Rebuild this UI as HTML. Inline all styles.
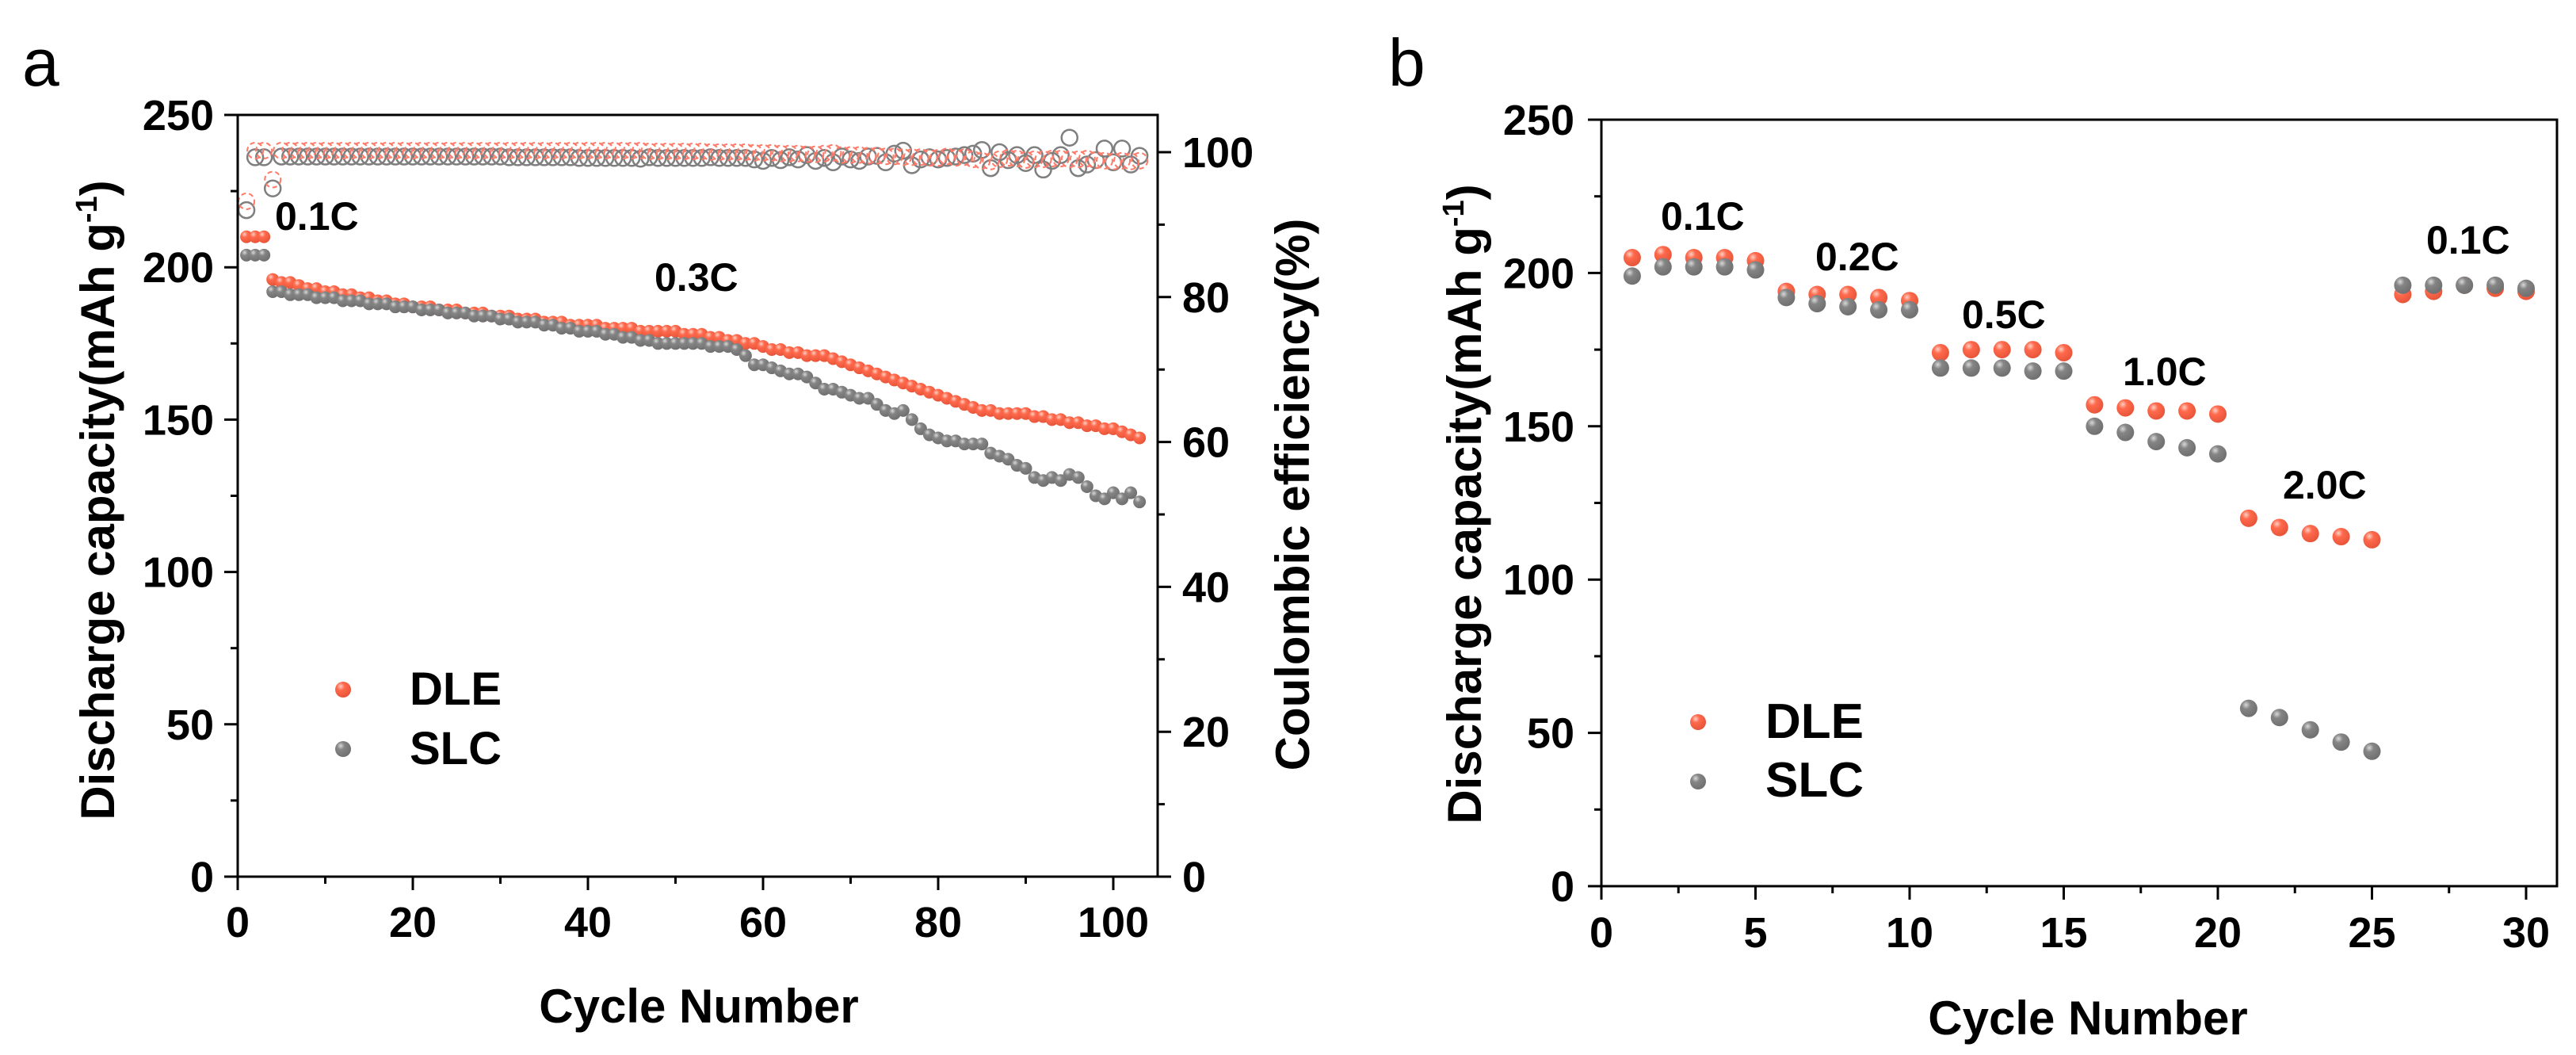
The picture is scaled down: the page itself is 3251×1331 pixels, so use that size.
<!DOCTYPE html>
<html><head><meta charset="utf-8">
<style>
html,body{margin:0;padding:0;background:#fff;}
svg{display:block;font-family:"Liberation Sans",Arial,sans-serif;}
.tk{font-size:54px;font-weight:bold;}
.tt{font-size:60px;font-weight:bold;}
.an{font-size:50px;font-weight:bold;}
.lg{font-size:58px;font-weight:bold;}
</style></head>
<body>
<svg id="fig" width="3251" height="1331" viewBox="0 0 3251 1331" xmlns="http://www.w3.org/2000/svg">
<defs>
<radialGradient id="gr" cx="0.35" cy="0.3" r="0.7"><stop offset="0" stop-color="#ffd0c4"/><stop offset="0.35" stop-color="#ff6a4d"/><stop offset="1" stop-color="#e8553a"/></radialGradient>
<radialGradient id="gg" cx="0.35" cy="0.3" r="0.7"><stop offset="0" stop-color="#d8d8d8"/><stop offset="0.35" stop-color="#858585"/><stop offset="1" stop-color="#707070"/></radialGradient>
</defs>
<text x="28" y="108" font-size="84">a</text>
<text x="1752" y="108" font-size="84">b</text>
<g id="pa"></g>
<g id="pb"></g>
</svg>
<script>
// ---------- Panel a data ----------
const capDLE = [210,210,210,196,195,195,194,193,193,192,
192,191,191,190,190,189,189,188,188,187,
187,187,186,186,186,185,185,185,184,184,
184,183,183,183,182,182,182,181,181,181,
181,180,180,180,180,179,179,179,179,179,
178,178,178,177,177,176,176,175,175,174,
173,173,172,172,171,171,171,170,169,168,
167,166,165,164,163,162,161,160,159,158,
157,156,155,154,153,153,152,152,152,152,
151,151,150,150,149,149,148,148,147,147,146,145,144];
const capSLC = [204,204,204,192,192,191,191,191,190,190,
190,189,189,189,188,188,188,187,187,187,
186,186,186,185,185,185,184,184,184,183,
183,182,182,182,181,181,180,180,179,179,
179,178,178,177,177,176,176,175,175,175,
175,175,175,174,174,174,173,171,168,168,
167,166,165,165,164,162,160,160,159,158,
157,157,155,153,152,153,150,147,145,144,
143,143,142,142,142,139,138,137,135,134,
131,130,131,130,132,131,128,125,124,126,124,126,123];
const ceDLE = [93,100,100,96,100,100,100,100,100,100,
100,100,100,100,100,100,100,100,100,100,
100,100,100,100,100,100,100,100,100,100,
100,100,100,100,100,100,100,100,100,100,
100,100,100,100,100,100,99.9,99.9,99.9,99.9,
99.9,99.9,99.9,99.8,99.8,99.8,99.8,99.8,99.7,99.7,
99.7,99.6,99.6,99.6,99.5,99.5,99.6,99.7,99.4,99.4,
99.4,99.3,99.3,99.2,99.2,99.1,99.1,99.1,99.0,99.0,
99.2,99.0,99.1,98.8,98.6,98.5,98.8,99.0,98.9,98.7,
98.8,98.8,98.9,98.9,98.8,98.8,98.9,98.7,98.6,98.5,98.6,98.5,98.6];
const ceSLC = [92,99.3,99.3,95,99.4,99.4,99.4,99.4,99.4,99.4,
99.4,99.4,99.4,99.4,99.4,99.4,99.4,99.4,99.4,99.4,
99.4,99.4,99.4,99.4,99.4,99.4,99.4,99.4,99.4,99.4,
99.3,99.3,99.3,99.3,99.3,99.3,99.3,99.3,99.2,99.2,
99.2,99.2,99.2,99.2,99.2,99.1,99.3,99.2,99.2,99.2,
99.2,99.2,99.2,99.3,99.2,99.2,99.2,99.2,99.0,98.8,
99.2,98.9,99.3,99.0,99.6,98.8,99.2,98.6,99.4,99.0,
98.8,99.4,99.5,98.6,99.8,100.2,98.2,99.0,99.3,99.0,
99.2,99.4,99.6,99.8,100.3,97.8,100.0,98.9,99.6,98.5,
99.6,97.6,98.8,99.6,102.0,97.8,98.3,98.9,100.5,98.6,100.5,98.3,99.5];
const aXTicks = [0,20,40,60,80,100];
const aYTicks = [0,50,100,150,200,250];
const aY2Ticks = [0,20,40,60,80,100];
// ---------- Panel b data ----------
const bCycles = [1,2,3,4,5,6,7,8,9,10,11,12,13,14,15,16,17,18,19,20,21,22,23,24,25,26,27,28,29,30];
const bDLE = [205,206,205,205,204,194,193,193,192,191,174,175,175,175,174,157,156,155,155,154,120,117,115,114,113,193,194,196,195,194];
const bSLC = [199,202,202,202,201,192,190,189,188,188,169,169,169,168,168,150,148,145,143,141,58,55,51,47,44,196,196,196,196,195];
const bXTicks = [0,5,10,15,20,25,30];
const bYTicks = [0,50,100,150,200,250];

const NS="http://www.w3.org/2000/svg";
function mk(parent,tag,attrs,txt){const e=document.createElementNS(NS,tag);for(const k in attrs)e.setAttribute(k,attrs[k]);if(txt!==undefined)e.textContent=txt;parent.appendChild(e);return e;}

// ---- Panel a ----
(function(){
const g=document.getElementById('pa');
const L=300,R=1461,T=145,B=1106;
const xs=v=>L+v*(1405-300)/100;
const ys=v=>B-v*(B-T)/250;
const y2=v=>B-v*(B-192)/100;
// CE open circles
ceSLC.forEach((v,i)=>{const c=mk(g,'circle',{cx:xs(i+1),cy:y2(v),r:10,fill:'none',stroke:'#7f7f7f','stroke-width':2.5});

});
ceDLE.forEach((v,i)=>{const c=mk(g,'circle',{cx:xs(i+1),cy:y2(v)-2,r:10,fill:'none',stroke:'#ff7a68','stroke-width':2,'stroke-dasharray':'6 4'});

});
capDLE.forEach((v,i)=>{const c=mk(g,'circle',{cx:xs(i+1),cy:ys(v),r:8,fill:'url(#gr)'});

});
capSLC.forEach((v,i)=>{const c=mk(g,'circle',{cx:xs(i+1),cy:ys(v),r:8,fill:'url(#gg)'});

});
// frame
const f=mk(g,'rect',{x:L,y:T,width:R-L,height:B-T,fill:'none',stroke:'#000','stroke-width':3});


// ticks
aXTicks.forEach(v=>{mk(g,'line',{x1:xs(v),x2:xs(v),y1:B,y2:B+17,stroke:'#000','stroke-width':3});
const t=mk(g,'text',{x:xs(v),y:1182,'text-anchor':'middle',class:'tk'},String(v));

});
for(let v=10;v<=100;v+=20)mk(g,'line',{x1:xs(v),x2:xs(v),y1:B,y2:B+9,stroke:'#000','stroke-width':3});
aYTicks.forEach(v=>{mk(g,'line',{x1:L-17,x2:L,y1:ys(v),y2:ys(v),stroke:'#000','stroke-width':3});
const t=mk(g,'text',{x:270,y:ys(v)+19,'text-anchor':'end',class:'tk'},String(v));

});
for(let v=25;v<250;v+=50)mk(g,'line',{x1:L-9,x2:L,y1:ys(v),y2:ys(v),stroke:'#000','stroke-width':3});
aY2Ticks.forEach(v=>{mk(g,'line',{x1:R,x2:R+17,y1:y2(v),y2:y2(v),stroke:'#000','stroke-width':3});
const t=mk(g,'text',{x:1492,y:y2(v)+19,'text-anchor':'start',class:'tk'},String(v));

});
for(let v=10;v<=100;v+=20)mk(g,'line',{x1:R,x2:R+9,y1:y2(v),y2:y2(v),stroke:'#000','stroke-width':3});
// titles
let t;
t=mk(g,'text',{x:882,y:1290,'text-anchor':'middle',class:'tt'},'Cycle Number');


t=mk(g,'text',{transform:'translate(144,631) rotate(-90)','text-anchor':'middle',class:'tt'});


t.innerHTML='Discharge capacity(mAh g<tspan dy="-22" font-size="38">-1</tspan><tspan dy="22">)</tspan>';
t=mk(g,'text',{transform:'translate(1652,624) rotate(-90)','text-anchor':'middle',class:'tt'},'Coulombic efficiency(%)');


t=mk(g,'text',{x:347,y:290,class:'an'},'0.1C');


t=mk(g,'text',{x:826,y:367,class:'an'},'0.3C');


// legend
t=mk(g,'circle',{cx:433,cy:870,r:10,fill:'url(#gr)'});


t=mk(g,'text',{x:517,y:889,class:'lg'},'DLE');


t=mk(g,'circle',{cx:433,cy:945,r:10,fill:'url(#gg)'});


t=mk(g,'text',{x:517,y:964,class:'lg'},'SLC');


})();

// ---- Panel b ----
(function(){
const g=document.getElementById('pb');
const L=2021,R=3227,T=151,B=1118;
const xs=v=>L+v*(3188-2021)/30;
const ys=v=>B-v*(B-T)/250;
bDLE.forEach((v,i)=>{const c=mk(g,'circle',{cx:xs(bCycles[i]),cy:ys(v),r:11,fill:'url(#gr)'});

});
bSLC.forEach((v,i)=>{const c=mk(g,'circle',{cx:xs(bCycles[i]),cy:ys(v),r:11,fill:'url(#gg)'});

});
const f=mk(g,'rect',{x:L,y:T,width:R-L,height:B-T,fill:'none',stroke:'#000','stroke-width':3});


bXTicks.forEach(v=>{mk(g,'line',{x1:xs(v),x2:xs(v),y1:B,y2:B+17,stroke:'#000','stroke-width':3});
const t=mk(g,'text',{x:xs(v),y:1195,'text-anchor':'middle',class:'tk'},String(v));

});
for(let v=2.5;v<30;v+=5)mk(g,'line',{x1:xs(v),x2:xs(v),y1:B,y2:B+9,stroke:'#000','stroke-width':3});
bYTicks.forEach(v=>{mk(g,'line',{x1:L-17,x2:L,y1:ys(v),y2:ys(v),stroke:'#000','stroke-width':3});
const t=mk(g,'text',{x:1987,y:ys(v)+19,'text-anchor':'end',class:'tk'},String(v));

});
for(let v=25;v<250;v+=50)mk(g,'line',{x1:L-9,x2:L,y1:ys(v),y2:ys(v),stroke:'#000','stroke-width':3});
let t;
t=mk(g,'text',{x:2635,y:1305,'text-anchor':'middle',class:'tt'},'Cycle Number');


t=mk(g,'text',{transform:'translate(1869,636) rotate(-90)','text-anchor':'middle',class:'tt'});


t.innerHTML='Discharge capacity(mAh g<tspan dy="-22" font-size="38">-1</tspan><tspan dy="22">)</tspan>';
const labs=[['0.1C',2096,290],['0.2C',2291,341],['0.5C',2476,414],['1.0C',2679,486],['2.0C',2881,629],['0.1C',3062,320]];
labs.forEach(l=>{const e=mk(g,'text',{x:l[1],y:l[2],class:'an'},l[0]);

});
t=mk(g,'circle',{cx:2143,cy:911,r:10,fill:'url(#gr)'});


t=mk(g,'text',{x:2228,y:931,class:'lg',style:'font-size:62px'},'DLE');


t=mk(g,'circle',{cx:2143,cy:986,r:10,fill:'url(#gg)'});


t=mk(g,'text',{x:2228,y:1005,class:'lg',style:'font-size:62px'},'SLC');


})();
</script>
</body></html>
